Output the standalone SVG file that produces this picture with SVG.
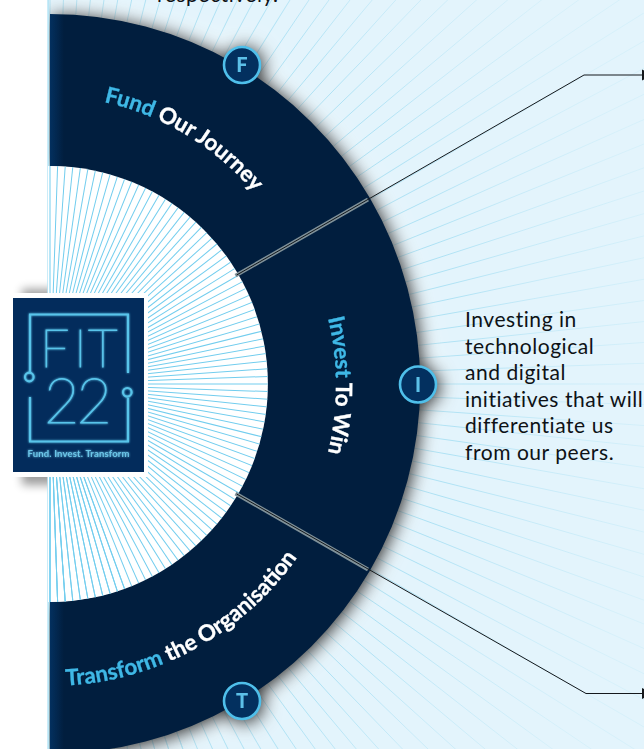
<svg xmlns="http://www.w3.org/2000/svg" xmlns:xlink="http://www.w3.org/1999/xlink" width="644" height="749" viewBox="0 0 644 749">
<style>
.body{font-family:Lato,"Liberation Sans",sans-serif;font-size:21px;letter-spacing:.55px;fill:#0e1216}
.lab{font-family:Lato,"Liberation Sans",sans-serif;font-size:22.400px;font-weight:700;fill:#fff;stroke:#fff;stroke-width:.35}
.cy{fill:#3fb8e6;stroke:#3fb8e6}
.sep{stroke:#7f9199;stroke-width:3.8;fill:none}
.wire{stroke:#14181c;stroke-width:1;fill:none}
.ring{fill:#03305f;stroke:#4fbfea;stroke-width:2.6}
.ini{font-family:Lato,"Liberation Sans",sans-serif;font-size:20px;font-weight:900;fill:#5cc0e8;text-anchor:middle}
.lg{fill:none;stroke:#59c4ea;stroke-width:2.2}
.lt{font-family:Lato,"Liberation Sans",sans-serif;fill:#59c4ea;stroke:#59c4ea;stroke-width:.9;font-weight:100}
</style>
<defs>
<radialGradient id="rg" gradientUnits="userSpaceOnUse" cx="50" cy="384" r="620">
<stop offset="0" stop-color="#a6dff3"/><stop offset=".62" stop-color="#a6dff3"/><stop offset=".8" stop-color="#c6eaf8"/><stop offset="1" stop-color="#d6f0fa"/>
</radialGradient>
<linearGradient id="bandg" gradientUnits="userSpaceOnUse" x1="50" y1="0" x2="64" y2="0">
<stop offset="0" stop-color="#03305f"/><stop offset="1" stop-color="#011e3e"/>
</linearGradient>
<filter id="sh" x="-20%" y="-20%" width="140%" height="140%" color-interpolation-filters="sRGB">
<feGaussianBlur in="SourceAlpha" stdDeviation="18" result="w0"/>
<feFlood flood-color="#fff" flood-opacity=".9"/><feComposite in2="w0" operator="in" result="w"/>
<feOffset in="SourceAlpha" dx="2" dy="2" result="o"/><feGaussianBlur in="o" stdDeviation="9" result="k0"/>
<feFlood flood-color="#000" flood-opacity=".85"/><feComposite in2="k0" operator="in" result="k"/>
<feMerge><feMergeNode in="w"/><feMergeNode in="k"/><feMergeNode in="SourceGraphic"/></feMerge>
</filter>
<filter id="bl" x="-20%" y="-20%" width="140%" height="140%"><feGaussianBlur stdDeviation="5"/></filter>
<filter id="glow" x="-10%" y="-10%" width="120%" height="120%"><feGaussianBlur stdDeviation="1.1" result="b"/><feMerge><feMergeNode in="b"/><feMergeNode in="SourceGraphic"/></feMerge></filter>
<clipPath id="cr"><rect x="49" y="0" width="595" height="749"/></clipPath>
<clipPath id="ci"><path d="M48 166H50A218 218 0 0 1 50 602H48Z"/></clipPath>
<g id="r1"><line x1="50" y1="384" x2="750" y2="384"/></g>
<g id="r2"><use href="#r1"/><use href="#r1" transform="rotate(2 50 384)"/></g>
<g id="r4"><use href="#r2"/><use href="#r2" transform="rotate(4 50 384)"/></g>
<g id="r8"><use href="#r4"/><use href="#r4" transform="rotate(8 50 384)"/></g>
<g id="r16"><use href="#r8"/><use href="#r8" transform="rotate(16 50 384)"/></g>
<g id="r32"><use href="#r16"/><use href="#r16" transform="rotate(32 50 384)"/></g>
<g id="r64"><use href="#r32"/><use href="#r32" transform="rotate(64 50 384)"/></g>
<g id="rays"><use href="#r64" transform="rotate(-90 50 384)"/><use href="#r32" transform="rotate(38 50 384)"/><use href="#r16" transform="rotate(70 50 384)"/><use href="#r2" transform="rotate(86 50 384)"/><use href="#r1" transform="rotate(90 50 384)"/></g>
<path id="pf" d="M104 102A275 275 0 0 1 319.500 370.500"/>
<path id="pi" d="M297.700 242.500A286 286 0 0 1 297.700 528.500"/>
<path id="pt" d="M50 686A302 302 0 0 0 352 384"/>
</defs>
<rect width="644" height="749" fill="#fff"/>
<rect x="22" y="289" width="122" height="196" fill="#000" opacity=".38" filter="url(#bl)"/>
<rect x="47.500" y="0" width="596.500" height="749" fill="#e3f4fc"/>
<rect x="47.500" y="0" width="1.200" height="749" fill="#a6dff3"/>
<g clip-path="url(#cr)"><g stroke="url(#rg)" stroke-width=".9"><use href="#rays"/></g></g>
<g clip-path="url(#cr)"><g filter="url(#sh)">
<g id="node-fund">
<path fill="url(#bandg)" d="M50 14A370 370 0 0 1 370 198.300L235.500 275.700A216 216 0 0 0 50 166Z"/>
<text class="lab"><textPath href="#pf"><tspan class="cy">Fund</tspan> Our Journey</textPath></text>
<circle class="ring" cx="242" cy="65" r="18"/><text class="ini" x="242" y="72">F</text>
</g>
<g id="node-invest">
<path fill="url(#bandg)" d="M370 198.300A370 370 0 0 1 370 570.500L235.500 493.500A216 216 0 0 0 235.500 275.700Z"/>
<text class="lab" text-anchor="middle"><textPath href="#pi" startOffset="50%"><tspan class="cy">Invest</tspan> To Win</textPath></text>
<circle class="ring" cx="418" cy="384.500" r="18"/><text class="ini" x="418" y="391.500">I</text>
</g>
<g id="node-transform">
<path fill="url(#bandg)" d="M370 570.500A370 370 0 0 1 50 754L50 602A216 216 0 0 0 235.500 493.500Z"/>
<text class="lab"><textPath href="#pt" startOffset="16"><tspan class="cy">Transform</tspan> the Organisation</textPath></text>
<circle class="ring" cx="242" cy="701" r="18"/><text class="ini" x="242" y="708">T</text>
</g>
</g></g>
<path d="M48 166H50A218 218 0 0 1 50 602H48Z" fill="#fff"/>
<g clip-path="url(#ci)"><g stroke="#72cdee" stroke-width="1"><use href="#rays"/></g></g>
<g id="connectors">
<line class="sep" x1="235.500" y1="275.700" x2="368" y2="199.500"/>
<line class="sep" x1="235.500" y1="493.500" x2="368" y2="569.500"/>
<path class="wire" d="M236.700 275L584 75H642"/>
<path class="wire" d="M236.700 494L586 693.500H642"/>
<path d="M642 69.500L652 75L642 80.500Z" fill="#14181c"/>
<path d="M642 688L652 693.500L642 699Z" fill="#14181c"/>
</g>
<g id="logo">
<rect x="0" y="293" width="148" height="184" fill="#fff"/>
<rect x="13" y="298" width="131" height="174" fill="#032c5c"/>
<g filter="url(#glow)">
<path class="lg" d="M30 372V314.500H128V373"/>
<path class="lg" d="M30 397V441.500H128V398"/>
<circle class="lg" cx="29.300" cy="377" r="4.300"/>
<circle class="lg" cx="127.300" cy="392.300" r="4.300"/>
<text class="lt" x="40 74 88" y="367" font-size="52">FIT</text>
<text class="lt" x="44" y="423" font-size="61" textLength="68">22</text>
<text x="27.500" y="456.500" font-family="Lato,'Liberation Sans',sans-serif" font-size="9.500" font-weight="700" fill="#6cc6e8" textLength="102">Fund. Invest. Transform</text>
</g>
</g>
<text class="body" x="157" y="2">respectively.</text>
<g class="body">
<text x="465" y="327">Investing in</text>
<text x="465" y="354">technological</text>
<text x="465" y="380">and digital</text>
<text x="465" y="407">initiatives that will</text>
<text x="465" y="433">differentiate us</text>
<text x="465" y="460">from our peers.</text>
</g>
</svg>
